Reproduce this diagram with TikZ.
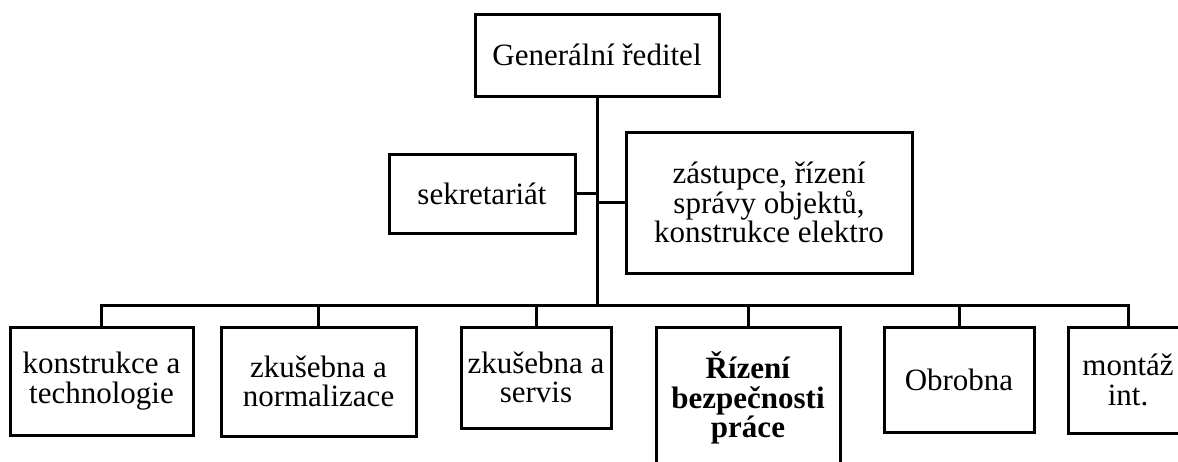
\documentclass[tikz,border=0pt]{standalone}
\usepackage{fontspec}
\setmainfont{Liberation Serif}
\tikzset{
    %Define style for boxes
    obox/.style={
           rectangle,
           draw=black, line width=3pt,
           inner sep=0pt,
           align=center,
           font=\fontsize{31}{29.5}\selectfont},
    % Define line style
    lin/.style={
           draw=black,
           line width=3pt}
}
\begin{document}
\begin{tikzpicture}[x=1pt,y=-1pt]
    % CANVAS
    \useasboundingbox (0,0) rectangle (1178,461);

    % TOP
    \node[obox, minimum width=244pt, minimum height=82pt] at (597,55) (genRed) {Generální ředitel};
    \node[obox, minimum width=186pt, minimum height=79pt] at (482,193.5) (sekret) {sekretariát};
    \node[obox, minimum width=286pt, minimum height=141pt] at (769,202.5) (zastup) {zástupce, řízení\\ správy objektů,\\ konstrukce elektro};
    \coordinate (busMid) at (597,305);

    % DEPARTMENTS
    \node[obox, minimum width=183pt, minimum height=108pt] at (101.5,381) (konTech) {konstrukce a\\ technologie};
    \node[obox, minimum width=195pt, minimum height=109pt] at (318.5,381.5) (zkuNorm) {zkušebna a\\ normalizace};
    \node[obox, minimum width=150pt, minimum height=101pt] at (536,377.5) (zkuServ) {zkušebna a\\ servis};
    \node[obox, minimum width=184pt, minimum height=142pt] at (748,398) (rizBezp) {\textbf{Řízení}\\ \textbf{bezpečnosti}\\ \textbf{práce}};
    \node[obox, minimum width=150pt, minimum height=105pt] at (959,379.5) (obrob) {Obrobna};
    \node[obox, minimum width=120pt, minimum height=106pt] at (1128,380) (montaz) {montáž\\ int.};

    % LINES
    \draw[lin] (genRed.south) -- (busMid);
    \draw[lin] (sekret.east) -- (sekret.east -| busMid);
    \draw[lin] (zastup.west) -- (zastup.west -| busMid);
    \draw[lin] (busMid) -| (konTech.north);
    \draw[lin] (busMid) -| (zkuNorm.north);
    \draw[lin] (busMid) -| (zkuServ.north);
    \draw[lin] (busMid) -| (rizBezp.north);
    \draw[lin] (busMid) -| (obrob.north);
    \draw[lin] (busMid) -| (montaz.north);
\end{tikzpicture}
\end{document}
